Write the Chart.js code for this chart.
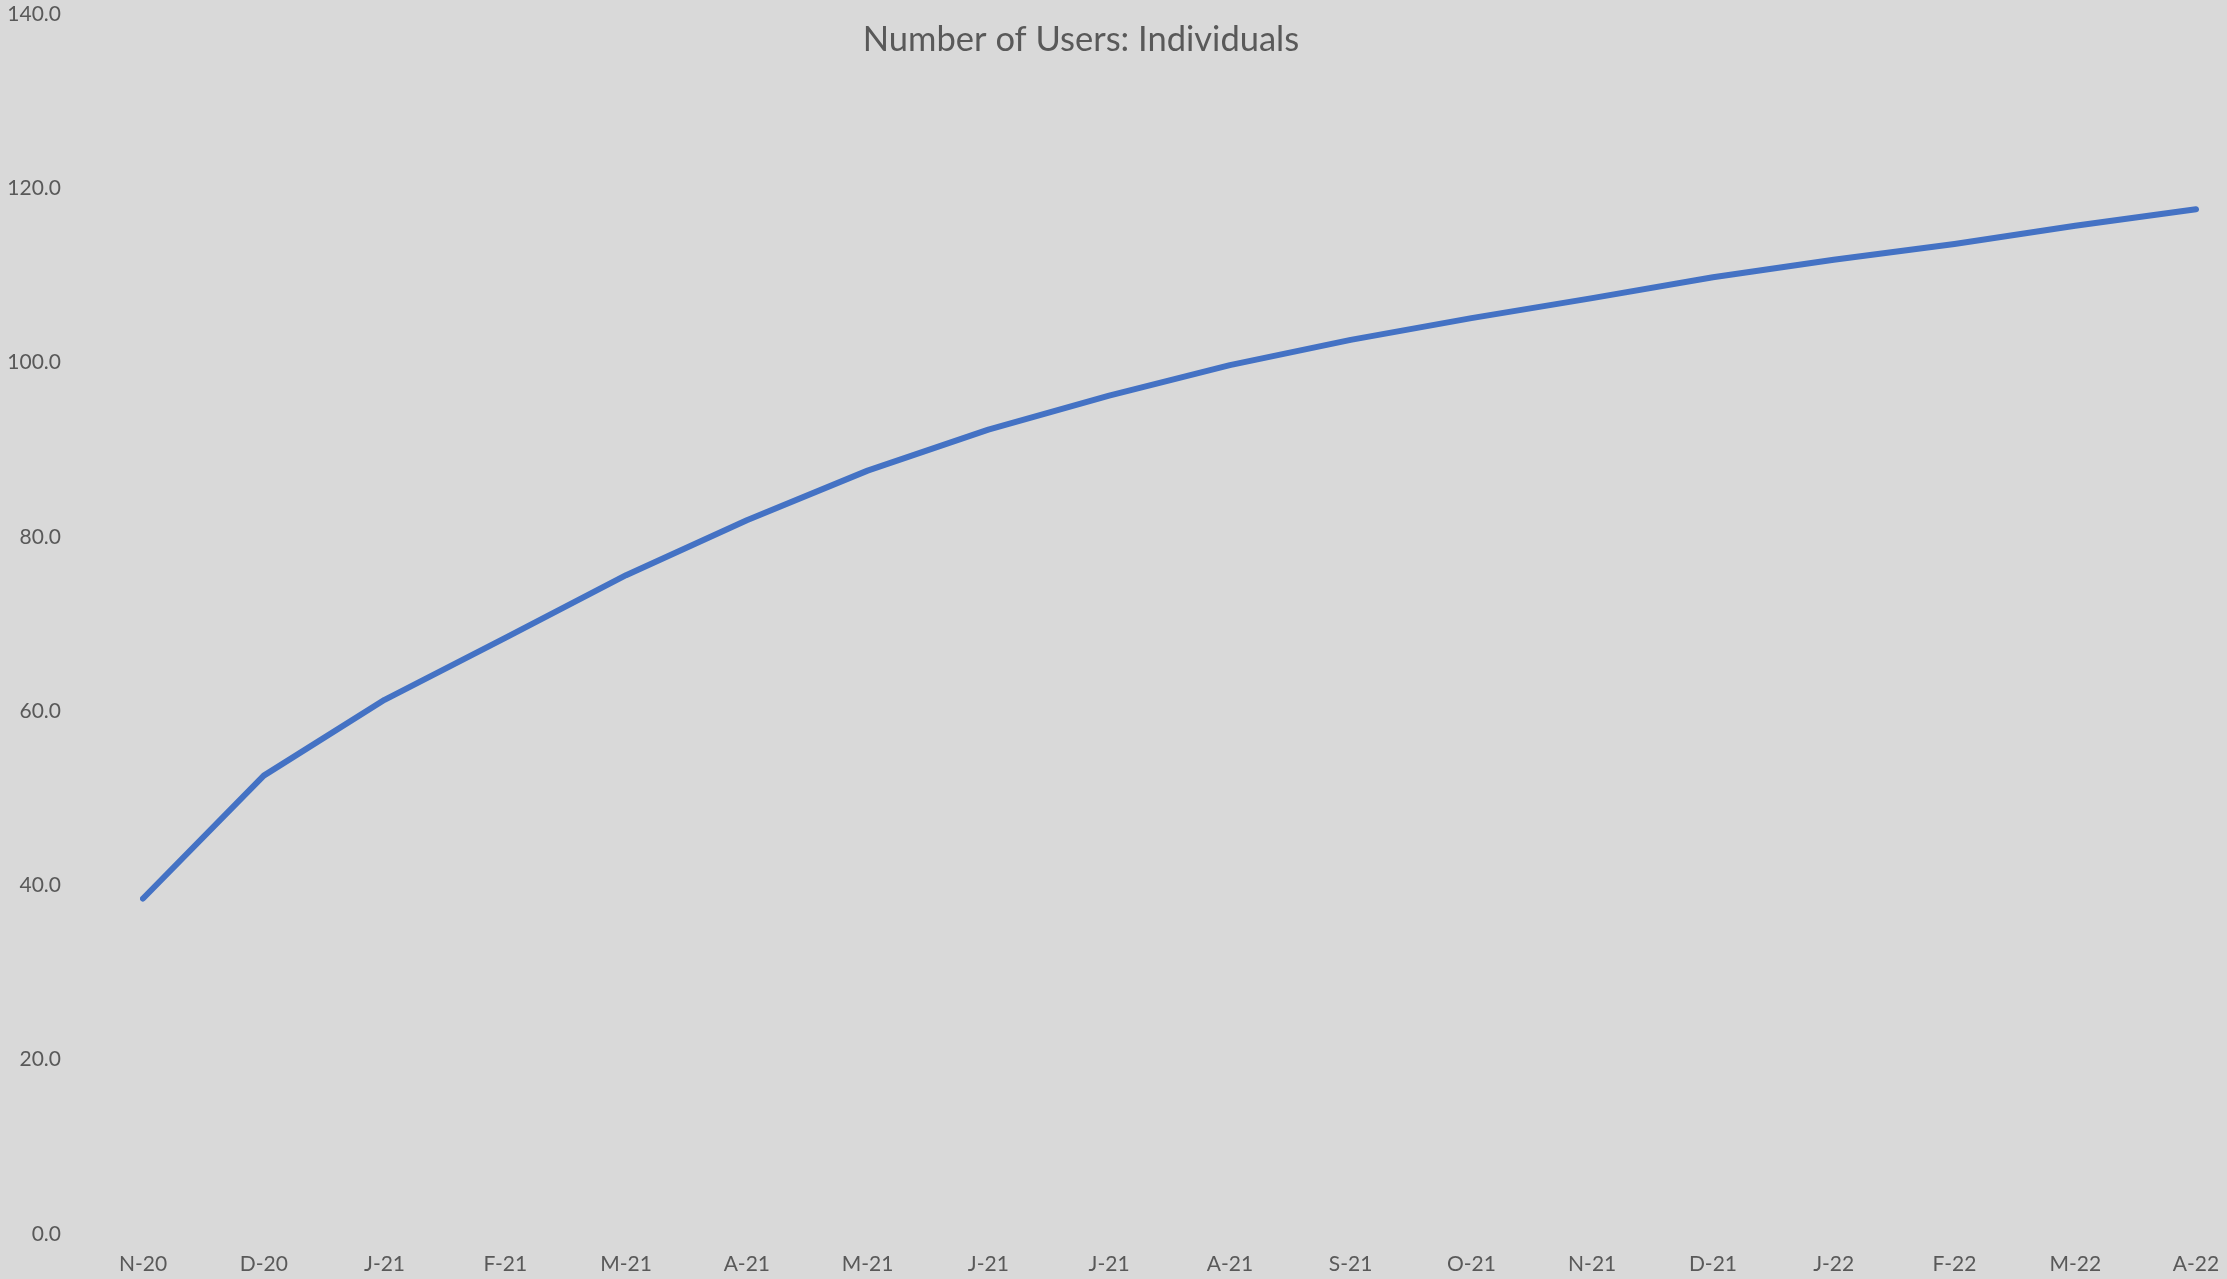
<!DOCTYPE html>
<html>
<head>
<meta charset="utf-8">
<title>Number of Users: Individuals</title>
<script src="https://cdn.jsdelivr.net/npm/chart.js@4.4.1/dist/chart.umd.min.js"></script>
<style>
  html, body { margin: 0; padding: 0; background: #d9d9d9; }
  #wrap { width: 2227px; height: 1279px; }
</style>
</head>
<body>
<div id="wrap"><canvas id="usersChart"></canvas></div>
<script>
// month labels, Nov 2020 to Apr 2022
const months = ['N-20', 'D-20', 'J-21', 'F-21', 'M-21', 'A-21', 'M-21', 'J-21', 'J-21',
  'A-21', 'S-21', 'O-21', 'N-21', 'D-21', 'J-22', 'F-22', 'M-22', 'A-22']

// individual users per month
const users = [38.5, 52.6, 61.3, 68.4, 75.6, 81.9, 87.6, 92.3, 96.2,
  99.7, 102.6, 105.1, 107.4, 109.8, 111.8, 113.6, 115.7, 117.6]

const yTicks = [0, 20, 40, 60, 80, 100, 120, 140]

const titleText = 'Number of Users: Individuals'
const textColor = '#595959'
const fontFamily = 'Lato, "Open Sans", sans-serif'

// title sits over the plot area, so it is drawn by hand after the chart
const overlayTitle = {
  id: 'overlayTitle',
  afterDraw(chart) {
    const ctx = chart.ctx
    ctx.save()
    ctx.fillStyle = textColor
    ctx.font = '34.5px ' + fontFamily
    ctx.textAlign = 'center'
    ctx.textBaseline = 'middle'
    ctx.fillText(titleText, 1081, 40)
    ctx.restore()
  }
}

const ctx = document.getElementById('usersChart')

new Chart(ctx, {
  type: 'line',
  data: {
    labels: months,
    datasets: [{
      label: titleText,
      data: users,
      borderColor: '#4472c4',
      borderWidth: 6,
      borderCapStyle: 'round',
      borderJoinStyle: 'round',
      pointRadius: 0,
      tension: 0,
      fill: false
    }]
  },
  options: {
    responsive: true,
    maintainAspectRatio: false,
    animation: false,
    layout: { padding: { top: 14, right: 31, bottom: 0, left: 0 } },
    plugins: {
      legend: { display: false },
      title: { display: false },
      tooltip: { enabled: false }
    },
    scales: {
      x: {
        offset: false,
        grid: { display: false, drawTicks: false },
        border: { display: false },
        ticks: {
          color: textColor,
          font: { family: fontFamily, size: 21 },
          padding: 18,
          maxRotation: 0,
          autoSkip: false
        },
        afterFit(scale) {
          scale.height = 45
          // tick padding would otherwise widen the side margins
          scale.paddingLeft = 0
          scale.paddingRight = 0
        }
      },
      y: {
        min: 0,
        max: 140,
        grid: { display: false, drawTicks: false },
        border: { display: false },
        afterBuildTicks(scale) {
          scale.ticks = yTicks.map(v => ({ value: v }))
        },
        ticks: {
          color: textColor,
          font: { family: fontFamily, size: 21 },
          padding: 82,
          callback: v => v.toFixed(1)
        },
        afterFit(scale) {
          scale.width = 143
          scale.paddingTop = 0
          scale.paddingBottom = 0
        }
      }
    }
  },
  plugins: [overlayTitle]
})
</script>
</body>
</html>
